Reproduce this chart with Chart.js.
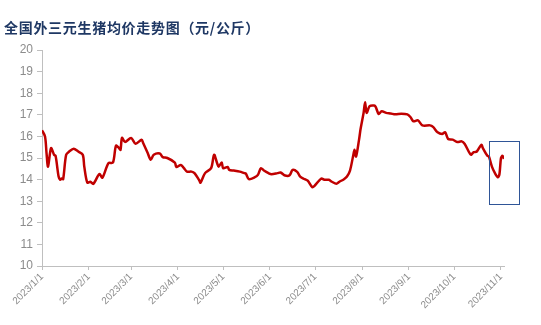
<!DOCTYPE html>
<html>
<head>
<meta charset="utf-8">
<script src="https://cdn.jsdelivr.net/npm/chart.js@4/dist/chart.umd.min.js"></script>
<style>
  html, body { margin: 0; padding: 0; background: #fff; }
  #wrap { position: relative; width: 541px; height: 325px; }
  #title {
    position: absolute; left: 4px; top: 17px;
    font: bold 14px "Noto Sans CJK SC", sans-serif;
    letter-spacing: 0.7px;
    color: #1f3864;
  }
  canvas { position: absolute; left: 0; top: 0; }
</style>
</head>
<body>
<div id="wrap">
  <canvas id="chart" width="541" height="325"></canvas>
  <div id="title">全国外三元生猪均价走势图（元/公斤）</div>
</div>
<script>
// ===== Data (day index from 2023/1/1, price 元/公斤) =====
const days = [
  0, 2, 3, 4, 6, 8, 9, 11, 12, 13, 14, 16, 18, 21, 24, 27, 28, 30, 32, 34,
  38, 40, 44, 47, 49, 51, 52, 53, 55, 59, 62, 66, 67, 70, 72, 74, 78, 80, 83, 88,
  89, 92, 94, 96, 99, 101, 104, 105, 108, 112, 114, 116, 117, 119, 120, 123, 124, 127, 131, 134,
  135, 137, 141, 143, 145, 147, 150, 152, 156, 158, 161, 164, 166, 169, 171, 174, 176, 179, 181, 185,
  187, 190, 192, 195, 197, 200, 202, 204, 206, 207, 208, 210, 211, 213, 214, 215, 217, 220, 221, 223,
  225, 228, 231, 234, 238, 242, 244, 246, 249, 252, 257, 259, 262, 265, 267, 269, 272, 275, 278, 280,
  284, 286, 288, 291, 292, 295, 296, 298, 300, 302, 303, 304, 305, 306,
];
const prices = [
  16.28, 16.0, 15.23, 14.6, 15.46, 15.15, 15.1, 14.14, 13.99, 14.05, 14.02, 15.15, 15.3, 15.43, 15.3, 15.15, 14.6, 13.86, 13.9, 13.8,
  14.26, 14.09, 14.76, 14.79, 15.57, 15.46, 15.38, 15.93, 15.74, 15.93, 15.66, 15.85, 15.69, 15.23, 14.92, 15.15, 15.21, 15.04, 15.0, 14.79,
  14.58, 14.68, 14.53, 14.37, 14.37, 14.3, 13.99, 13.86, 14.3, 14.53, 15.15, 14.76, 14.6, 14.79, 14.53, 14.58, 14.45, 14.42, 14.37, 14.3,
  14.28, 14.02, 14.11, 14.22, 14.53, 14.42, 14.3, 14.25, 14.3, 14.33, 14.19, 14.2, 14.45, 14.36, 14.14, 14.02, 13.95, 13.65, 13.75, 14.05,
  13.99, 13.99, 13.9, 13.81, 13.9, 14.02, 14.14, 14.42, 15.07, 15.38, 15.07, 15.85, 16.34, 17.09, 17.58, 17.09, 17.4, 17.43, 17.37, 17.04,
  17.16, 17.09, 17.06, 17.02, 17.05, 17.02, 16.9, 16.7, 16.74, 16.51, 16.51, 16.44, 16.19, 16.11, 16.19, 15.88, 15.85, 15.74, 15.77, 15.65,
  15.16, 15.27, 15.3, 15.61, 15.46, 15.1, 15.07, 14.6, 14.3, 14.11, 14.26, 15.0, 15.1, 14.96,
];

// month starts (day index) and their labels
const monthTicks = [0, 31, 59, 90, 120, 151, 181, 212, 243, 273, 304];
const monthLabels = [
  '2023/1/1', '2023/2/1', '2023/3/1', '2023/4/1', '2023/5/1', '2023/6/1',
  '2023/7/1', '2023/8/1', '2023/9/1', '2023/10/1', '2023/11/1',
];

// highlight box (days / price range)
const boxDays = [296, 316];
const boxRange = [12.9, 15.8];

const AXIS_GREY = '#bfbfbf';
const TICK_GREY = '#8c8c8c';

// ===== Highlight box plugin =====
const boxPlugin = {
  id: 'boxPlugin',
  afterDatasetsDraw(chart) {
    const { ctx, scales: { x, y } } = chart;
    const x0 = x.getPixelForValue(boxDays[0]);
    const x1 = x.getPixelForValue(boxDays[1]);
    const y0 = y.getPixelForValue(boxRange[1]);
    const y1 = y.getPixelForValue(boxRange[0]);
    ctx.save();
    ctx.strokeStyle = '#2f5597';
    ctx.lineWidth = 1;
    ctx.strokeRect(Math.round(x0) + 0.5, Math.round(y0) + 0.5, Math.round(x1 - x0), Math.round(y1 - y0));
    ctx.restore();
  },
};

// ===== Chart =====
const ctx = document.getElementById('chart').getContext('2d');
new Chart(ctx, {
  type: 'line',
  data: {
    datasets: [{
      data: days.map((d, i) => ({ x: d, y: prices[i] })),
      borderColor: '#c00000',
      borderWidth: 2.5,
      pointRadius: 0,
      tension: 0.3,
      fill: false,
    }],
  },
  options: {
    responsive: false,
    animation: false,
    layout: { padding: { top: 50, right: 37, left: 0, bottom: 0 } },
    plugins: { legend: { display: false }, tooltip: { enabled: false } },
    scales: {
      x: {
        type: 'linear',
        min: 0, max: 306,
        afterBuildTicks: (axis) => { axis.ticks = monthTicks.map((v) => ({ value: v })); },
        afterFit: (axis) => { axis.height = 59; },
        grid: { display: true, drawOnChartArea: false, drawTicks: true, tickLength: 4, color: AXIS_GREY },
        border: { color: AXIS_GREY },
        ticks: {
          autoSkip: false,
          maxRotation: 45, minRotation: 45,
          padding: 1,
          color: TICK_GREY,
          font: { family: 'Liberation Sans, Arial, sans-serif', size: 10 },
          callback: (v) => monthLabels[monthTicks.indexOf(v)] || '',
        },
      },
      y: {
        min: 10, max: 20,
        afterFit: (axis) => { axis.width = 42; },
        grid: { display: true, drawOnChartArea: false, drawTicks: true, tickLength: 5, color: AXIS_GREY },
        border: { color: AXIS_GREY },
        ticks: {
          stepSize: 1,
          padding: 4,
          color: TICK_GREY,
          font: { family: 'Liberation Sans, Arial, sans-serif', size: 12 },
        },
      },
    },
  },
  plugins: [boxPlugin],
});
</script>
</body>
</html>
